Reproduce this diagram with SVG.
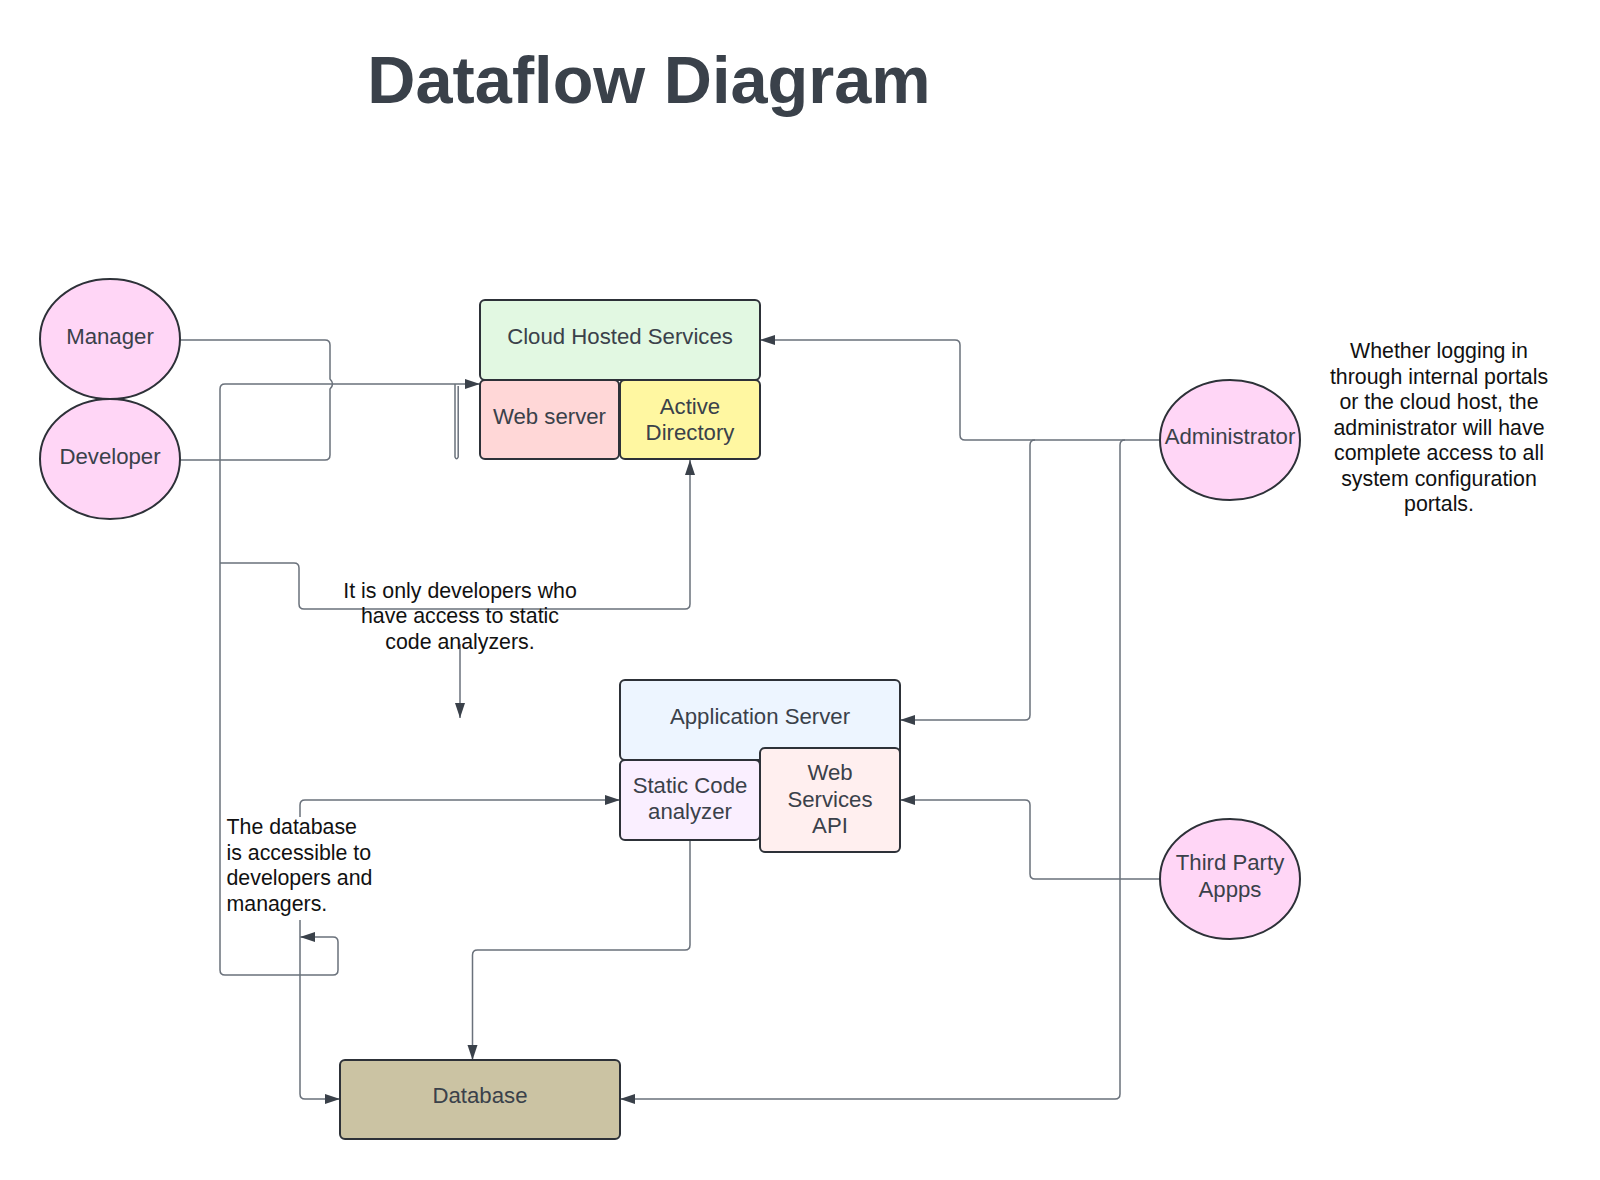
<svg xmlns="http://www.w3.org/2000/svg" width="1600" height="1180" viewBox="0 0 1600 1180">
<style>
  .node { stroke: #2d3138; stroke-width: 2; }
  .lbl { font-family: "Liberation Sans", Arial, sans-serif; font-size: 22.2px; fill: #3a414a; text-anchor: middle; }
  .note { font-family: "Liberation Sans", Arial, sans-serif; font-size: 21.33px; fill: #111111; }
  .conn { fill: none; stroke: #6a717b; stroke-width: 1.5; }
  .title { font-family: "Liberation Sans", Arial, sans-serif; font-size: 66.7px; font-weight: bold; fill: #3a414a; text-anchor: middle; }
</style>
<defs>
  <marker id="arr" markerUnits="userSpaceOnUse" markerWidth="16" markerHeight="12" refX="15" refY="5" orient="auto-start-reverse" viewBox="0 0 16 10">
    <path d="M0,0 L15,5 L0,10 z" fill="#3a414a"/>
  </marker>
</defs>
<rect width="1600" height="1180" fill="#ffffff"/>

<text class="title" x="649" y="103">Dataflow Diagram</text>

<g id="connectors">
  <path class="conn" d="M180,340 H325 Q330,340 330,345 V379 Q335,384 330,389 V455 Q330,460 325,460 H180"/>
  <path class="conn" d="M300,937 H333 Q338,937 338,942 V970 Q338,975 333,975 H225 Q220,975 220,970 V389 Q220,384 225,384 H480" marker-start="url(#arr)" marker-end="url(#arr)"/>
  <path class="conn" d="M455,384 V457 Q456.6,460.5 458.2,457 V386"/>
  <path class="conn" d="M220,563 H294 Q299,563 299,568 V604 Q299,609 304,609 H685 Q690,609 690,604 V460" marker-end="url(#arr)"/>
  <path class="conn" d="M460,644 V718" marker-end="url(#arr)"/>
  <path class="conn" d="M300,817 V805 Q300,800 305,800 H620" marker-end="url(#arr)"/>
  <path class="conn" d="M300,920 V1094 Q300,1099 305,1099 H340" marker-end="url(#arr)"/>
  <path class="conn" d="M690,840 V945 Q690,950 685,950 H477.5 Q472.5,950 472.5,955 V1060" marker-end="url(#arr)"/>
  <path class="conn" d="M1160,440 H965 Q960,440 960,435 V345 Q960,340 955,340 H760" marker-end="url(#arr)"/>
  <path class="conn" d="M1035,440 Q1030,440 1030,445 V715 Q1030,720 1025,720 H900" marker-end="url(#arr)"/>
  <path class="conn" d="M1125,440 Q1120,440 1120,445 V1094 Q1120,1099 1115,1099 H620" marker-end="url(#arr)"/>
  <path class="conn" d="M1160,879 H1035 Q1030,879 1030,874 V805 Q1030,800 1025,800 H900" marker-end="url(#arr)"/>
</g>

<g id="manager">
  <ellipse class="node" cx="110" cy="339" rx="70" ry="60" fill="#ffd6f6"/>
  <text class="lbl" x="110" y="344">Manager</text>
</g>
<g id="developer">
  <ellipse class="node" cx="110" cy="459" rx="70" ry="60" fill="#ffd6f6"/>
  <text class="lbl" x="110" y="464">Developer</text>
</g>
<g id="administrator">
  <ellipse class="node" cx="1230" cy="440" rx="70" ry="60" fill="#ffd6f6"/>
  <text class="lbl" x="1230" y="444">Administrator</text>
</g>
<g id="third-party">
  <ellipse class="node" cx="1230" cy="879" rx="70" ry="60" fill="#ffd6f6"/>
  <text class="lbl" x="1230" y="870">Third Party</text>
  <text class="lbl" x="1230" y="896.5">Appps</text>
</g>

<g id="cloud-hosted">
  <rect class="node" x="480" y="300" width="280" height="80" rx="5" fill="#e2f8e2"/>
  <text class="lbl" x="620" y="344">Cloud Hosted Services</text>
</g>
<g id="web-server">
  <rect class="node" x="480" y="380" width="139" height="79" rx="5" fill="#ffd7d7"/>
  <text class="lbl" x="549.5" y="424">Web server</text>
</g>
<g id="active-directory">
  <rect class="node" x="620" y="380" width="140" height="79" rx="5" fill="#fff7a1"/>
  <text class="lbl" x="690" y="413.5">Active</text>
  <text class="lbl" x="690" y="439.5">Directory</text>
</g>

<g id="application-server">
  <rect class="node" x="620" y="680" width="280" height="80" rx="5" fill="#edf5ff"/>
  <text class="lbl" x="760" y="724">Application Server</text>
</g>
<g id="static-code">
  <rect class="node" x="620" y="760" width="140" height="80" rx="5" fill="#faefff"/>
  <text class="lbl" x="690" y="793">Static Code</text>
  <text class="lbl" x="690" y="819">analyzer</text>
</g>
<g id="web-services">
  <rect class="node" x="760" y="748" width="140" height="104" rx="5" fill="#ffefef"/>
  <text class="lbl" x="830" y="780">Web</text>
  <text class="lbl" x="830" y="806.5">Services</text>
  <text class="lbl" x="830" y="833">API</text>
</g>

<g id="database">
  <rect class="node" x="340" y="1060" width="280" height="79" rx="5" fill="#cbc3a3" stroke-width="2.5"/>
  <text class="lbl" x="480" y="1103">Database</text>
</g>

<g id="note-developers">
  <text class="note" text-anchor="middle" x="460" y="597.5">It is only developers who</text>
  <text class="note" text-anchor="middle" x="460" y="623">have access to static</text>
  <text class="note" text-anchor="middle" x="460" y="648.5">code analyzers.</text>
</g>
<g id="note-database">
  <text class="note" x="226.5" y="834">The database</text>
  <text class="note" x="226.5" y="859.5">is accessible to</text>
  <text class="note" x="226.5" y="885">developers and</text>
  <text class="note" x="226.5" y="910.5">managers.</text>
</g>
<g id="note-admin">
  <text class="note" text-anchor="middle" x="1439" y="358">Whether logging in</text>
  <text class="note" text-anchor="middle" x="1439" y="383.5">through internal portals</text>
  <text class="note" text-anchor="middle" x="1439" y="409">or the cloud host, the</text>
  <text class="note" text-anchor="middle" x="1439" y="434.5">administrator will have</text>
  <text class="note" text-anchor="middle" x="1439" y="460">complete access to all</text>
  <text class="note" text-anchor="middle" x="1439" y="485.5">system configuration</text>
  <text class="note" text-anchor="middle" x="1439" y="511">portals.</text>
</g>
</svg>
